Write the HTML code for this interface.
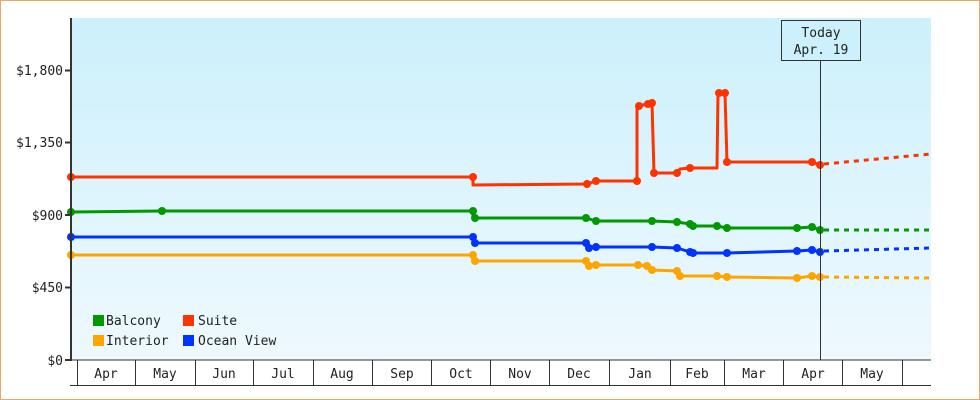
<!DOCTYPE html>
<html><head><style>body{margin:0;background:#fff}svg{display:block}text{font-family:"DejaVu Sans Mono","Liberation Mono",monospace;font-size:13px;fill:#222}</style></head><body>
<svg width="980" height="400" xmlns="http://www.w3.org/2000/svg">
<defs><linearGradient id="g" x1="0" y1="0" x2="0" y2="1"><stop offset="0" stop-color="#ccf0fc"/><stop offset="1" stop-color="#eff9fe"/></linearGradient></defs>
<rect x="0.5" y="0.5" width="979" height="399" fill="#fff" stroke="#e8a860"/>
<rect x="71" y="18" width="860" height="342" fill="url(#g)"/>
<g fill="none" stroke-width="3" stroke-linejoin="round">
<polyline stroke="#ff3300" points="71,177 473,177 473,185 587,184 596,181 637,181 637,106 648,104 652,103 654,173 677,173 680,169 690,168 717,168 718,93 725,93 727,162 812,162 820,165"/>
<polyline stroke="#009900" points="71,212 162,211 473,211 473,218 586,218 596,221 652,221 677,222 690,224 693,226 717,226 727,228 797,228 812,227 820,230"/>
<polyline stroke="#0033ff" points="71,237 473,237 473,243 586,243 589,248 596,247 652,247 677,248 690,252 693,253 727,253 797,251 812,250 820,252"/>
<polyline stroke="#ffa500" points="71,255 473,255 473,261 586,261 589,266 596,265 638,265 647,266 652,270 677,271 680,276 717,276 727,277 797,278 812,276 820,277"/>
<g stroke-dasharray="5,5"><line x1="824" y1="164" x2="931" y2="154" stroke="#ff3300"/><line x1="824" y1="230" x2="931" y2="230" stroke="#009900"/><line x1="824" y1="251" x2="931" y2="248" stroke="#0033ff"/><line x1="824" y1="277" x2="931" y2="278" stroke="#ffa500"/></g>
</g>
<g fill="#ff3300"><circle cx="71" cy="177" r="4"/><circle cx="473" cy="177" r="4"/><circle cx="587" cy="184" r="4"/><circle cx="596" cy="181" r="4"/><circle cx="637" cy="181" r="4"/><circle cx="639" cy="106" r="4"/><circle cx="648" cy="104" r="4"/><circle cx="652" cy="103" r="4"/><circle cx="654" cy="173" r="4"/><circle cx="677" cy="173" r="4"/><circle cx="690" cy="168" r="4"/><circle cx="719" cy="93" r="4"/><circle cx="725" cy="93" r="4"/><circle cx="727" cy="162" r="4"/><circle cx="812" cy="162" r="4"/><circle cx="820" cy="165" r="4"/></g>
<g fill="#009900"><circle cx="71" cy="212" r="4"/><circle cx="162" cy="211" r="4"/><circle cx="473" cy="211" r="4"/><circle cx="475" cy="218" r="4"/><circle cx="586" cy="218" r="4"/><circle cx="596" cy="221" r="4"/><circle cx="652" cy="221" r="4"/><circle cx="677" cy="222" r="4"/><circle cx="690" cy="224" r="4"/><circle cx="693" cy="226" r="4"/><circle cx="717" cy="226" r="4"/><circle cx="727" cy="228" r="4"/><circle cx="797" cy="228" r="4"/><circle cx="812" cy="227" r="4"/><circle cx="820" cy="230" r="4"/></g>
<g fill="#0033ff"><circle cx="71" cy="237" r="4"/><circle cx="473" cy="237" r="4"/><circle cx="475" cy="243" r="4"/><circle cx="586" cy="243" r="4"/><circle cx="589" cy="248" r="4"/><circle cx="596" cy="247" r="4"/><circle cx="652" cy="247" r="4"/><circle cx="677" cy="248" r="4"/><circle cx="690" cy="252" r="4"/><circle cx="693" cy="253" r="4"/><circle cx="727" cy="253" r="4"/><circle cx="797" cy="251" r="4"/><circle cx="812" cy="250" r="4"/><circle cx="820" cy="252" r="4"/></g>
<g fill="#ffa500"><circle cx="71" cy="255" r="4"/><circle cx="473" cy="255" r="4"/><circle cx="475" cy="261" r="4"/><circle cx="586" cy="261" r="4"/><circle cx="589" cy="266" r="4"/><circle cx="596" cy="265" r="4"/><circle cx="638" cy="265" r="4"/><circle cx="647" cy="266" r="4"/><circle cx="652" cy="270" r="4"/><circle cx="677" cy="271" r="4"/><circle cx="680" cy="276" r="4"/><circle cx="717" cy="276" r="4"/><circle cx="727" cy="277" r="4"/><circle cx="797" cy="278" r="4"/><circle cx="812" cy="276" r="4"/><circle cx="820" cy="277" r="4"/></g>
<line x1="820.5" y1="60" x2="820.5" y2="360" stroke="#333"/>
<rect x="781.5" y="20.5" width="79" height="40" fill="#ccf0fc" stroke="#333"/>
<text x="821" y="37" text-anchor="middle">Today</text><text x="821" y="54" text-anchor="middle">Apr. 19</text>
<line x1="71" y1="18" x2="71" y2="361" stroke="#333" stroke-width="2"/>
<line x1="70" y1="360" x2="931" y2="360" stroke="#333" stroke-width="1"/>
<g stroke="#333" stroke-width="2"><line x1="65" y1="360" x2="71" y2="360"/><line x1="65" y1="287.5" x2="71" y2="287.5"/><line x1="65" y1="215" x2="71" y2="215"/><line x1="65" y1="142.5" x2="71" y2="142.5"/><line x1="65" y1="70.5" x2="71" y2="70.5"/></g>
<g text-anchor="end"><text x="63" y="365">$0</text><text x="63" y="292">$450</text><text x="63" y="220">$900</text><text x="63" y="147">$1,350</text><text x="63" y="75">$1,800</text></g>
<g stroke="#333"><line x1="70" y1="385.5" x2="931" y2="385.5"/>
<line x1="77.5" y1="360" x2="77.5" y2="385"/><line x1="135.5" y1="360" x2="135.5" y2="385"/><line x1="195.5" y1="360" x2="195.5" y2="385"/><line x1="253.5" y1="360" x2="253.5" y2="385"/><line x1="313.5" y1="360" x2="313.5" y2="385"/><line x1="372.5" y1="360" x2="372.5" y2="385"/><line x1="431.5" y1="360" x2="431.5" y2="385"/><line x1="490.5" y1="360" x2="490.5" y2="385"/><line x1="549.5" y1="360" x2="549.5" y2="385"/><line x1="609.5" y1="360" x2="609.5" y2="385"/><line x1="670.5" y1="360" x2="670.5" y2="385"/><line x1="724.5" y1="360" x2="724.5" y2="385"/><line x1="783.5" y1="360" x2="783.5" y2="385"/><line x1="842.5" y1="360" x2="842.5" y2="385"/><line x1="902.5" y1="360" x2="902.5" y2="385"/></g>
<g text-anchor="middle"><text x="106" y="378">Apr</text><text x="165" y="378">May</text><text x="224" y="378">Jun</text><text x="283" y="378">Jul</text><text x="342" y="378">Aug</text><text x="402" y="378">Sep</text><text x="461" y="378">Oct</text><text x="520" y="378">Nov</text><text x="579" y="378">Dec</text><text x="640" y="378">Jan</text><text x="697" y="378">Feb</text><text x="754" y="378">Mar</text><text x="813" y="378">Apr</text><text x="872" y="378">May</text></g>
<rect x="93" y="315" width="11" height="11" fill="#009900"/><text x="106" y="325">Balcony</text>
<rect x="183" y="315" width="11" height="11" fill="#ff3300"/><text x="198" y="325">Suite</text>
<rect x="93" y="335" width="11" height="11" fill="#ffa500"/><text x="106" y="345">Interior</text>
<rect x="183" y="335" width="11" height="11" fill="#0033ff"/><text x="198" y="345">Ocean View</text>
</svg>
</body></html>
